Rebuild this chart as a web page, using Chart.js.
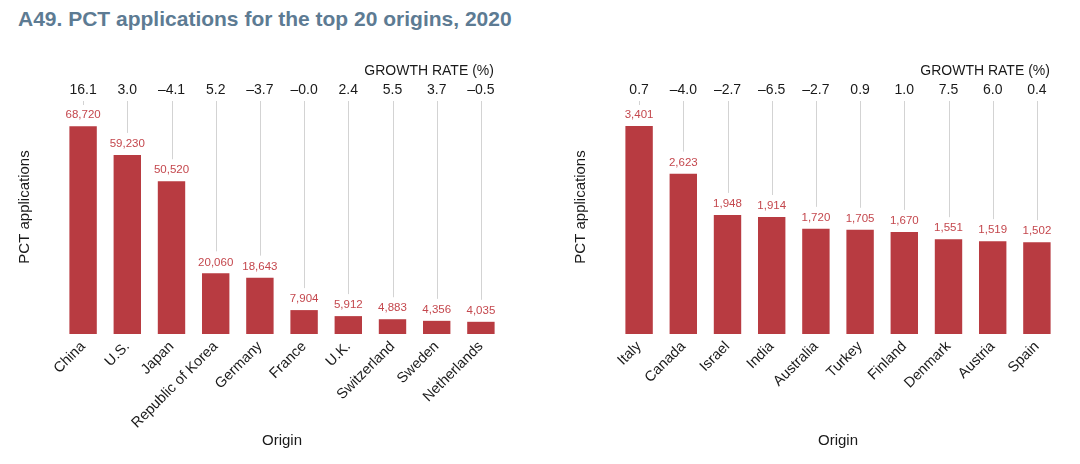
<!DOCTYPE html>
<html>
<head>
<meta charset="utf-8">
<script src="https://cdn.jsdelivr.net/npm/chart.js@4"></script>
<style>
  html,body{margin:0;padding:0;background:#fff;width:1080px;height:464px;overflow:hidden;}
  #title{position:absolute;left:18px;top:7px;font:bold 21px "Liberation Sans",Arial,sans-serif;color:#5d7b93;white-space:nowrap;}
  canvas{position:absolute;top:0;}
  #c1{left:0;} #c2{left:540px;}
</style>
</head>
<body>
<div id="title">A49. PCT applications for the top 20 origins, 2020</div>
<canvas id="c1" width="540" height="464"></canvas>
<canvas id="c2" width="540" height="464"></canvas>
<script>
const originsLeft = ["China","U.S.","Japan","Republic of Korea","Germany","France","U.K.","Switzerland","Sweden","Netherlands"];
const applicationsLeft = [68720,59230,50520,20060,18643,7904,5912,4883,4356,4035];
const growthLeft = [16.1,3.0,-4.1,5.2,-3.7,-0.0,2.4,5.5,3.7,-0.5];

const originsRight = ["Italy","Canada","Israel","India","Australia","Turkey","Finland","Denmark","Austria","Spain"];
const applicationsRight = [3401,2623,1948,1914,1720,1705,1670,1551,1519,1502];
const growthRight = [0.7,-4.0,-2.7,-6.5,-2.7,0.9,1.0,7.5,6.0,0.4];

const FONT = '"Liberation Sans", Arial, sans-serif';
const BAR = '#b83b41';
const LABEL = '#c4474d';

function fmtGrowth(v){
  const neg = v < 0 || Object.is(v,-0);
  return (neg ? '\u2013' : '') + Math.abs(v).toFixed(1);
}

const overlay = {
  id:'overlay',
  afterDatasetsDraw(chart, args, opts){
    const ctx = chart.ctx;
    const meta = chart.getDatasetMeta(0);
    const growth = opts.growth;
    const vals = chart.data.datasets[0].data;
    ctx.save();
    ctx.strokeStyle = '#d3d3d3';
    ctx.lineWidth = 1;
    meta.data.forEach((bar,i)=>{
      const x = Math.round(bar.x) + 0.5;
      const yEnd = bar.y - 22;
      ctx.beginPath();
      ctx.moveTo(x, 101);
      ctx.lineTo(x, Math.max(yEnd, 105));
      ctx.stroke();
    });
    ctx.fillStyle = LABEL;
    ctx.font = '11.5px ' + FONT;
    ctx.textAlign = 'center';
    ctx.textBaseline = 'middle';
    meta.data.forEach((bar,i)=>{
      ctx.fillText(vals[i].toLocaleString('en-US'), bar.x, bar.y - 11);
    });
    ctx.fillStyle = '#1a1a1a';
    ctx.font = '14px ' + FONT;
    meta.data.forEach((bar,i)=>{
      ctx.fillText(fmtGrowth(growth[i]), bar.x, 90);
    });
    const last = meta.data[meta.data.length-1];
    ctx.textAlign = 'right';
    ctx.fillText('GROWTH RATE (%)', last.x + 13, 71);
    ctx.restore();
  }
};

function makeChart(id, labels, values, growth, yMax, padRight, yWidth, yTitlePad){
  return new Chart(document.getElementById(id), {
    type:'bar',
    data:{labels:labels, datasets:[{data:values, backgroundColor:BAR, categoryPercentage:1, barPercentage:0.62}]},
    options:{
      responsive:false, animation:false,
      layout:{padding:{top:80,right:padRight,left:0,bottom:0}},
      plugins:{legend:{display:false}, tooltip:{enabled:false}, overlay:{growth:growth}},
      scales:{
        x:{
          grid:{display:false, drawTicks:false}, border:{display:false},
          ticks:{maxRotation:45, minRotation:45, autoSkip:false, padding:4, color:'#1a1a1a', font:{family:FONT, size:14.5}},
          title:{display:true, text:'Origin', color:'#1a1a1a', font:{family:FONT, size:15}, padding:{top:0,bottom:14}},
          afterFit(s){ s.height = 130; }
        },
        y:{
          min:0, max:yMax,
          grid:{display:false, drawTicks:false}, border:{display:false},
          ticks:{display:false},
          title:{display:true, text:'PCT applications', color:'#1a1a1a', font:{family:FONT, size:15}, padding:{top:yTitlePad,bottom:0}},
          afterFit(s){ s.width = yWidth; }
        }
      }
    },
    plugins:[overlay]
  });
}

makeChart('c1', originsLeft, applicationsLeft, growthLeft, 84000, 37, 61, 16);
makeChart('c2', originsRight, applicationsRight, growthRight, 4155, 21, 77, 32);
</script>
</body>
</html>
